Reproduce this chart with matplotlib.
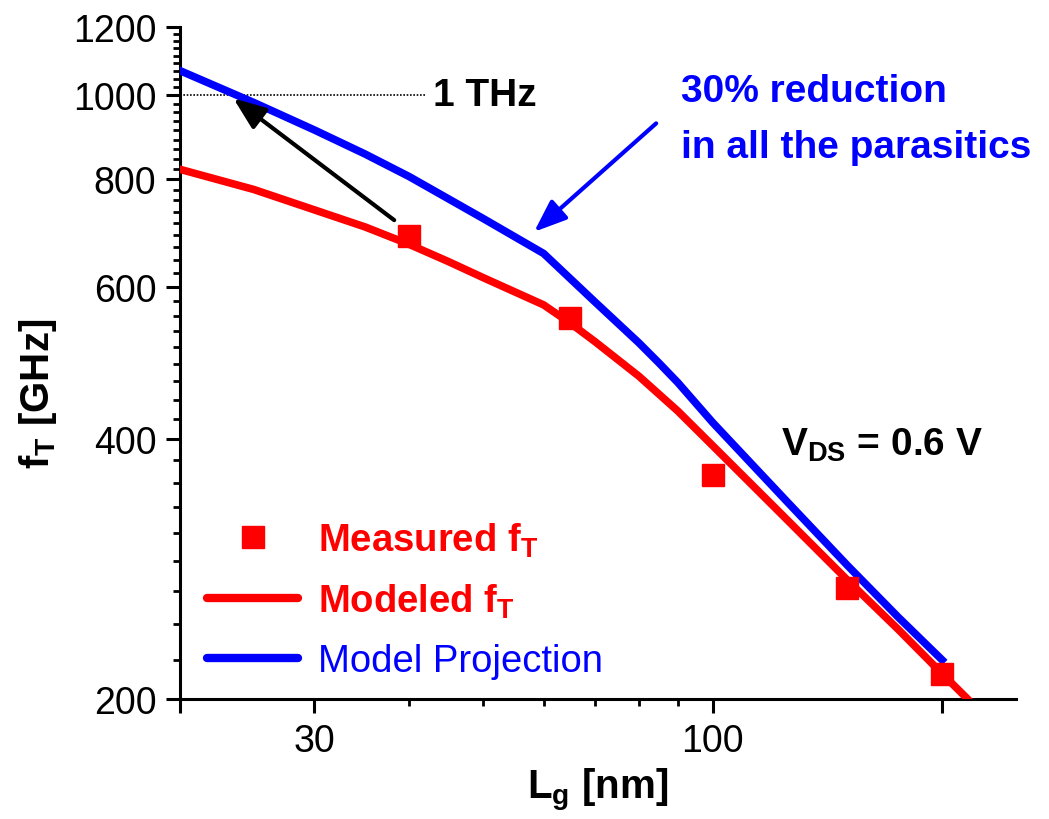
import matplotlib
matplotlib.use("Agg")
import matplotlib.pyplot as plt
from matplotlib.lines import Line2D
from matplotlib.ticker import FixedLocator, FixedFormatter, NullFormatter

plt.rcParams['font.family'] = ['Liberation Sans', 'DejaVu Sans']
plt.rcParams['mathtext.default'] = 'regular'

# measured fT against gate length
lg_meas = [40, 65, 100, 150, 200]
ft_meas = [688, 552, 363, 269, 214]

# modeled fT
lg_model = [20, 25, 30, 35, 40, 45, 50, 60, 65, 70, 80, 90, 100, 125, 150, 175, 200, 225]
ft_model = [821, 778, 737, 704, 672, 642, 615, 572, 545, 519, 473, 431, 393, 323, 275, 241, 214, 193]

# projection with 30% lower parasitics
lg_proj = [20, 25, 30, 35, 40, 50, 60, 70, 80, 85, 90, 100, 125, 150, 175, 200]
ft_proj = [1068, 981, 912, 855, 805, 720, 656, 577, 517, 490, 465, 418, 339, 286, 249, 222]

x_major = [20, 30, 100, 200]
x_labels = ['', '30', '100', '']
x_minor = [40, 50, 60, 70, 80, 90]
y_major = [200, 400, 600, 800, 1000, 1200]

RED = '#ff0000'
BLUE = '#0000ff'

fig = plt.figure(figsize=(10.49, 8.2), dpi=100)
ax = fig.add_axes([0.1716, 0.1463, 0.7969, 0.8196])

ax.set_xscale('log')
ax.set_yscale('log')
ax.set_xlim(20, 250)
ax.set_ylim(200, 1200)

ax.plot(lg_proj, ft_proj, color=BLUE, lw=5.5, zorder=3)
ax.plot(lg_model, ft_model, color=RED, lw=5.5, zorder=4)
ax.plot(lg_meas, ft_meas, 's', color=RED, ms=16, zorder=5)

# 1 THz reference
ax.plot([20, 42], [1000, 1000], color='black', lw=1.2, ls=(0, (1, 1)), zorder=2)
ax.text(43, 1000, '1 THz', fontsize=28, fontweight='bold', va='center', ha='left')

ax.annotate('', xy=(23.5, 992), xytext=(38.2, 717),
            arrowprops=dict(arrowstyle='-|>,head_length=0.9,head_width=0.35',
                            color='black', lw=3, mutation_scale=22,
                            shrinkA=0, shrinkB=0), zorder=6)
ax.annotate('', xy=(58.3, 695), xytext=(84.3, 928),
            arrowprops=dict(arrowstyle='-|>,head_length=0.9,head_width=0.35',
                            color=BLUE, lw=3, mutation_scale=22,
                            shrinkA=0, shrinkB=0), zorder=6)
ax.text(91, 938, '30% reduction\nin all the parasitics', color=BLUE,
        fontsize=28, fontweight='bold', va='center', ha='left', linespacing=1.72)
ax.text(123, 384, r'V$_{DS}$ = 0.6 V', fontsize=28, fontweight='bold',
        va='baseline', ha='left')

# axes styling
for side in ['top', 'right']:
    ax.spines[side].set_visible(False)
for side in ['left', 'bottom']:
    ax.spines[side].set_linewidth(2.2)

ax.xaxis.set_major_locator(FixedLocator(x_major))
ax.xaxis.set_major_formatter(FixedFormatter(x_labels))
ax.xaxis.set_minor_locator(FixedLocator(x_minor))
ax.xaxis.set_minor_formatter(NullFormatter())

y_minor = []
for lo, hi in zip(y_major[:-1], y_major[1:]):
    step = (hi - lo) / 9
    y_minor += [lo + step * k for k in range(1, 9)]
ax.yaxis.set_major_locator(FixedLocator(y_major))
ax.yaxis.set_major_formatter(FixedFormatter([str(v) for v in y_major]))
ax.yaxis.set_minor_locator(FixedLocator(y_minor))
ax.yaxis.set_minor_formatter(NullFormatter())

ax.tick_params(which='major', length=10, width=2.2, labelsize=27, pad=7)
ax.tick_params(which='minor', length=5, width=2.0)

ax.set_xlabel(r'L$_g$ [nm]', fontsize=29, fontweight='bold')
ax.set_ylabel(r'f$_T$ [GHz]', fontsize=29, fontweight='bold')
ax.xaxis.set_label_coords(0.5, -0.1)
ax.yaxis.set_label_coords(-0.145, 0.455)

handles = [
    Line2D([], [], ls='none', marker='s', ms=16, color=RED),
    Line2D([], [], color=RED, lw=6, solid_capstyle='round'),
    Line2D([], [], color=BLUE, lw=6, solid_capstyle='round'),
]
labels = [r'Measured f$_T$', r'Modeled f$_T$', 'Model Projection']
leg = ax.legend(handles, labels, loc='lower left', bbox_to_anchor=(0.032, 0.03),
                frameon=False, fontsize=27.5, handlelength=2.4, handletextpad=0.52,
                labelspacing=0.6, borderpad=0, borderaxespad=0)
for txt, col, wt in zip(leg.get_texts(), [RED, RED, BLUE], ['bold', 'bold', 'normal']):
    txt.set_color(col)
    txt.set_fontweight(wt)

fig.savefig('out.png', dpi=100)
